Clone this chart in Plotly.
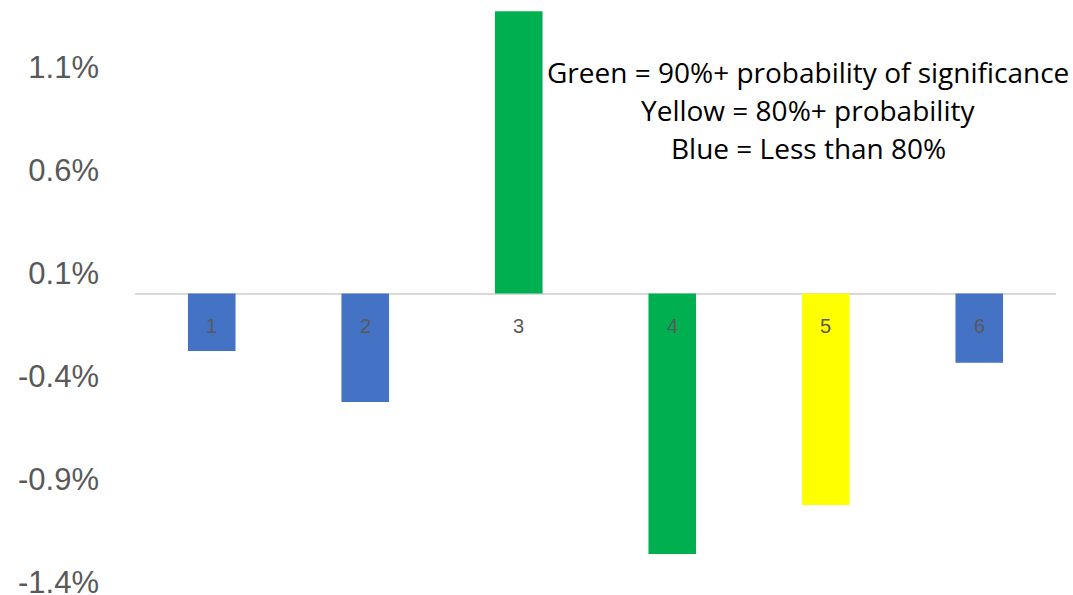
import plotly.graph_objects as go

categories = ["1", "2", "3", "4", "5", "6"]
values = [-0.279, -0.527, 1.37, -1.265, -1.027, -0.336]
bar_colors = ["#4472C4", "#4472C4", "#00B050", "#00B050", "#FFFF00", "#4472C4"]
tick_vals = [1.1, 0.6, 0.1, -0.4, -0.9, -1.4]
tick_text = ["1.1%", "0.6%", "0.1%", "-0.4%", "-0.9%", "-1.4%"]
note_lines = [
    "Green = 90%+ probability of significance",
    "Yellow = 80%+ probability",
    "Blue = Less than 80%",
]

FONT = "Liberation Sans"
NOTE_FONT = "Open Sans"

fig = go.Figure()
fig.add_trace(go.Bar(
    x=categories, y=values,
    marker=dict(color=bar_colors, line=dict(width=0)),
    hoverinfo="skip",
))

# category labels next to the zero line (category axis: position by index)
for i, c in enumerate(categories):
    fig.add_annotation(x=i, y=-0.16, xref="x", yref="y", text=c, showarrow=False,
                       font=dict(family=FONT, size=20, color="#595959"),
                       xanchor="center", yanchor="middle")

# note text
note_y = [0.879 * 595 / 620 + (620 - 595) / 620, 0, 0]
H = 620
note_px = [72, 110, 148]
for t, py in zip(note_lines, note_px):
    fig.add_annotation(x=0.731, y=1 - py / H, xref="paper", yref="paper", text=t,
                       showarrow=False,
                       font=dict(family=NOTE_FONT, size=28, color="#000000"),
                       xanchor="center", yanchor="middle")

fig.update_layout(
    width=1073, height=H,
    margin=dict(l=135, r=17, t=0, b=0),
    paper_bgcolor="white", plot_bgcolor="white",
    bargap=0.69,
    showlegend=False,
    font=dict(family=FONT),
)
fig.update_xaxes(type="category", showticklabels=False, showgrid=False, zeroline=False,
                 showline=False, ticks="")
fig.update_yaxes(range=[-1.585, 1.425], tickvals=tick_vals, ticktext=tick_text,
                 showgrid=False, zeroline=True, zerolinecolor="#D9D9D9", zerolinewidth=2,
                 showline=False, ticks="", ticklabelstandoff=35,
                 tickfont=dict(family=FONT, size=31, color="#595959"))

fig.write_html(
    "out.html",
    config={"displayModeBar": False},
    post_script="document.body.style.margin='0';document.body.style.overflow='hidden';",
)
